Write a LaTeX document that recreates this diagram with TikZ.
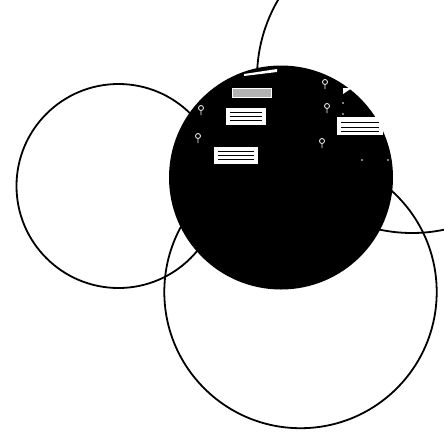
\documentclass[tikz,border=0pt]{standalone}
\usepackage{tikz}
\usepackage{amsmath}
\usepackage{amssymb}

\begin{document}
\begin{tikzpicture}[x=1pt, y=-1pt, line width=1.8pt]
  \useasboundingbox (0,0) rectangle (444,437);
  \begin{scope}
    \clip (0,0) rectangle (444,437);
    \draw (412,78) circle (155);
  \end{scope}
  \draw (118.5,186) circle (102);
  \draw (300.5,292) circle (136.2);
  \fill[black] (281,177.5) circle (112);
  \fill[gray!60, draw=white, line width=0.8pt] (232,88) rectangle (271,97);
  \fill[white] (226,108) rectangle (266,125);
  \fill[white] (214,147) rectangle (258,164);
  \fill[white] (337,117) rectangle (383,135);
  \foreach \y in {112,116,120} \draw[black, line width=0.8pt] (230,\y) -- (262,\y);
  \foreach \y in {151,155,159} \draw[black, line width=0.8pt] (218,\y) -- (254,\y);
  \foreach \y in {122,127,131} \draw[black, line width=0.8pt] (341,\y) -- (379,\y);
  \fill[white] (244,74) -- (277,69) -- (277,72) -- (244,76) -- cycle;
  \fill[white] (343,88) -- (352,88) -- (343,94) -- cycle;
  \foreach \x/\y in {201/108, 198/136, 325/82, 327/106, 322/141}
    \draw[white, line width=0.8pt] (\x,\y) circle (2.5) (\x,\y+2.5) -- (\x,\y+7);
  \foreach \x/\y in {343/103, 343/114, 362/160, 388/160}
    \fill[white] (\x,\y) circle (0.8);
\end{tikzpicture}
\end{document}
